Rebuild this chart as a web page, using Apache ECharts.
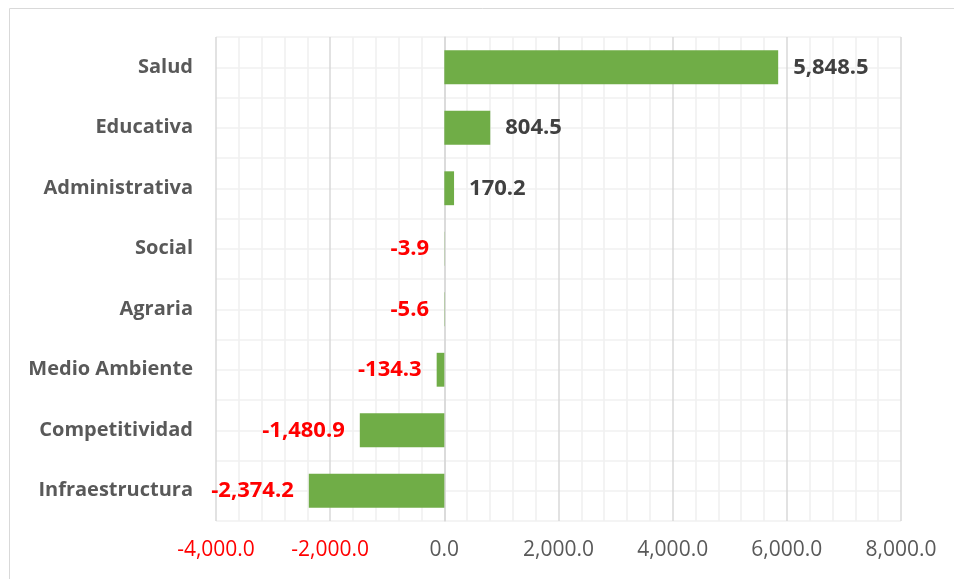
<!DOCTYPE html>
<html>
<head>
<meta charset="utf-8">
<script src="https://cdn.jsdelivr.net/npm/echarts@6/dist/echarts.min.js"></script>
<style>html,body{margin:0;padding:0;background:#fff}#c{width:954px;height:579px}</style>
</head>
<body>
<div id="c"></div>
<script>
var categories = ['Salud','Educativa','Administrativa','Social','Agraria','Medio Ambiente','Competitividad','Infraestructura'];
var values = [5848.5, 804.5, 170.2, -3.9, -5.6, -134.3, -1480.9, -2374.2];
var xTicks = [-4000, -2000, 0, 2000, 4000, 6000, 8000];

var FONT = '"Open Sans", Lato, sans-serif';
function fmt(v){
  var s = Math.abs(v).toFixed(1).split('.');
  s[0] = s[0].replace(/\B(?=(\d{3})+(?!\d))/g, ',');
  return (v < 0 ? '-' : '') + s.join('.');
}
var chart = echarts.init(document.getElementById('c'), null, {renderer:'canvas'});
var data = values.map(function(v){
  return {
    value: v,
    label: {
      position: v < 0 ? 'left' : 'right',
      color: v < 0 ? '#ff0000' : '#404040'
    }
  };
});
chart.setOption({
  animation: false,
  graphic: [{
    type: 'rect', shape: {x: 9.5, y: 8.5, width: 1000, height: 1000},
    style: {fill: 'none', stroke: '#d9d9d9', lineWidth: 1}, silent: true, z: -10
  }],
  grid: {left: 216, right: 53, top: 37, bottom: 58, containLabel: false},
  xAxis: {
    type: 'value', min: xTicks[0], max: xTicks[xTicks.length-1], interval: 2000,
    axisLine: {show: false}, axisTick: {show: false},
    splitLine: {show: true, lineStyle: {color: '#d9d9d9', width: 1.5}},
    minorTick: {show: false, splitNumber: 5},
    minorSplitLine: {show: true, lineStyle: {color: '#f0f0f0', width: 1.5}},
    axisLabel: {
      margin: 19, fontFamily: FONT, fontSize: 21,
      color: function(v){ return Number(v) < 0 ? '#ff0000' : '#595959'; },
      formatter: function(v){ return fmt(v); }
    }
  },
  yAxis: [{
    type: 'category', data: categories, inverse: true,
    axisLine: {show: true, lineStyle: {color: '#d9d9d9', width: 1.5}},
    axisTick: {show: false},
    splitLine: {show: false},
    axisLabel: {margin: 23, fontFamily: FONT, fontSize: 20, fontWeight: 'bold', color: '#595959'}
  }, {
    type: 'value', min: 0, max: categories.length * 2, interval: 1, position: 'right',
    axisLine: {show: false}, axisTick: {show: false}, axisLabel: {show: false},
    splitLine: {show: true, lineStyle: {color: '#f0f0f0', width: 1.5}}
  }],
  series: [{
    type: 'bar', yAxisIndex: 0, data: data, barWidth: '56%',
    itemStyle: {color: '#70ad47'},
    label: {show: true, distance: 15, fontFamily: FONT, fontSize: 22, fontWeight: 'bold',
      formatter: function(p){ return fmt(p.value); }}
  }]
});
</script>
</body>
</html>
